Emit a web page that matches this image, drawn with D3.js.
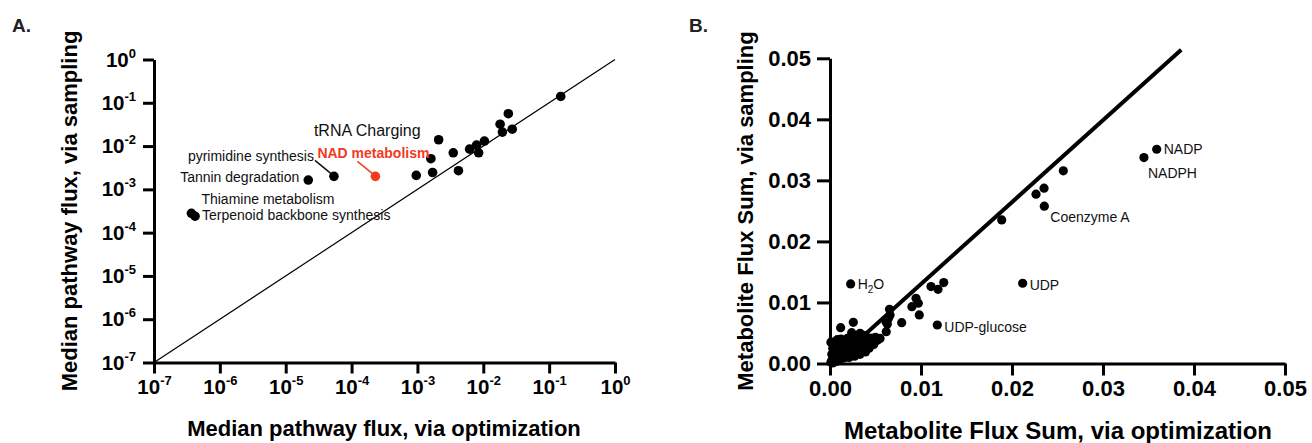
<!DOCTYPE html>
<html>
<head>
<meta charset="utf-8">
<script src="https://cdn.jsdelivr.net/npm/d3@7"></script>
<style>
  body { margin: 0; background: #fff; }
  svg { font-family: "Liberation Sans", Arial, Helvetica, sans-serif; }
  .axis path, .axis line { stroke: #000; stroke-width: 3; }
  .axis text { fill: #000; font-weight: bold; }
</style>
</head>
<body>
<svg id="chart" width="1312" height="443"></svg>
<script>
// ---- panel A: median pathway flux (log-log) ----
var pathOpt  = [4.2e-7, 3.7e-7, 2.2e-5, 5.4e-5, 2.3e-4, 9.6e-4, 1.7e-3, 1.6e-3, 2.1e-3, 3.5e-3,
                4.2e-3, 6.2e-3, 7.9e-3, 8.5e-3, 1.04e-2, 1.8e-2, 1.95e-2, 2.4e-2, 2.75e-2, 0.15];
var pathSamp = [2.4e-4, 2.8e-4, 1.64e-3, 2.0e-3, 2.0e-3, 2.1e-3, 2.45e-3, 5.1e-3, 1.4e-2, 7.0e-3,
                2.7e-3, 8.5e-3, 1.05e-2, 7.0e-3, 1.3e-2, 3.2e-2, 2.1e-2, 5.6e-2, 2.45e-2, 0.14];
var pathTicks = [1e-7, 1e-6, 1e-5, 1e-4, 1e-3, 1e-2, 1e-1, 1];
var highlightIdx = 4;   // NAD metabolism

// label: point index, text, pixel offset, anchor, size, leader line
var pathLabels = [
  {i: 0, text: "Terpenoid backbone synthesis", dx: 7, dy: 4, anchor: "start", size: 14},
  {i: 1, text: "Thiamine metabolism", dx: 10, dy: -9, anchor: "start", size: 14},
  {i: 2, text: "Tannin degradation", dx: -9, dy: 2, anchor: "end", size: 14},
  {i: 3, text: "pyrimidine synthesis", dx: -20, dy: -15, anchor: "end", size: 14, lead: [-19, -16]},
  {i: 4, text: "NAD metabolism", dx: -58, dy: -18, anchor: "start", size: 14, lead: [-18, -15], red: true},
  {i: 8, text: "tRNA Charging", dx: -18, dy: -4, anchor: "end", size: 16}
];

// ---- panel B: metabolite flux sums ----
var fluxOpt = [
  0.0359, 0.0345, 0.02564, 0.02352, 0.02264, 0.02355, 0.01887, 0.02117, 0.01179, 0.00227,
  0.0111, 0.01187, 0.0125, 0.00945, 0.0097, 0.0090, 0.00981, 0.00788, 0.00654, 0.0066,
  0.00643, 0.00615, 0.00618, 0.0063, 0.00117, 0.00256, 0.00238, 0.0033, 0.00458, 0.0043,
  0.0030, 0.0037, 0.0046,
  0.0001, 0.0002, 0.0003, 0.0004, 0.0005, 0.0005, 0.0006, 0.0007, 0.0008, 0.0008,
  0.0009, 0.0010, 0.0010, 0.0011, 0.0012, 0.0013, 0.0014, 0.0015, 0.0015, 0.0016,
  0.0017, 0.0018, 0.0019, 0.0020, 0.0021, 0.0022, 0.0023, 0.0024, 0.0025, 0.0026,
  0.0027, 0.0028, 0.0029, 0.0030, 0.0031, 0.0032, 0.0033, 0.0034, 0.0035, 0.0036,
  0.0037, 0.0038, 0.0039, 0.0040, 0.0041, 0.0042, 0.0043, 0.0044, 0.0046, 0.0048,
  0.0050, 0.0052, 0.0055, 0.0002, 0.0003, 0.0004, 0.0006, 0.0009, 0.0001, 0.0012,
  0.0019, 0.0026, 0.0034, 0.0008, 0.0016
];
var fluxSamp = [
  0.0351, 0.03374, 0.03156, 0.02872, 0.02774, 0.02577, 0.02352, 0.01315, 0.00631, 0.01303,
  0.0126, 0.01216, 0.01325, 0.01069, 0.00987, 0.00931, 0.00795, 0.00669, 0.00889, 0.00795,
  0.00741, 0.00685, 0.00521, 0.00648, 0.00587, 0.00675, 0.00505, 0.00495, 0.00413, 0.0033,
  0.0045, 0.0046, 0.0041,
  0.0002, 0.0005, 0.0001, 0.0008, 0.0003, 0.0012, 0.0006, 0.0018, 0.0004, 0.0025,
  0.0010, 0.0030, 0.0015, 0.0007, 0.0020, 0.0012, 0.0026, 0.0009, 0.0017, 0.0032,
  0.0022, 0.0013, 0.0028, 0.0018, 0.0010, 0.0024, 0.0035, 0.0015, 0.0030, 0.0021,
  0.0012, 0.0027, 0.0038, 0.0018, 0.0033, 0.0024, 0.0015, 0.0029, 0.0040, 0.0021,
  0.0034, 0.0027, 0.0019, 0.0037, 0.0030, 0.0042, 0.0025, 0.0035, 0.0040, 0.0031,
  0.0043, 0.0038, 0.0041, 0.0015, 0.0025, 0.0035, 0.0030, 0.0036, 0.0035, 0.0040,
  0.0041, 0.0044, 0.0047, 0.0039, 0.0036
];
var fluxTicks = [0, 0.01, 0.02, 0.03, 0.04, 0.05];
var fitX = [0.0003, 0.0386];
var fitY = [0, 0.0514];

var fluxLabels = [
  {i: 0, text: "NADP", dx: 7, dy: 5},
  {i: 1, text: "NADPH", dx: 4, dy: 20},
  {i: 5, text: "Coenzyme A", dx: 6, dy: 16},
  {i: 7, text: "UDP", dx: 7, dy: 7},
  {i: 8, text: "UDP-glucose", dx: 7, dy: 7},
  {i: 9, text: "H", sub: "2", after: "O", dx: 7, dy: 5}
];

var svg = d3.select("#chart");

// ================= panel A =================
var xA = d3.scaleLog().domain([1e-7, 1]).range([154, 615]);
var yA = d3.scaleLog().domain([1e-7, 1]).range([362.5, 59.5]);

function powLabel(sel, supDy) {
    sel.each(function(d) {
        var t = d3.select(this);
        t.text("10");
        t.append("tspan")
            .attr("dy", supDy)
            .style("font-size", "13px")
            .text(Math.round(Math.log10(d)));
    });
}

var gA = svg.append("g");

gA.append("line")
    .attr("x1", xA(1e-7)).attr("y1", yA(1e-7))
    .attr("x2", xA(1)).attr("y2", yA(1))
    .attr("stroke", "#000").attr("stroke-width", 1.2);

gA.append("g")
    .attr("class", "axis")
    .attr("transform", "translate(0," + yA(1e-7) + ")")
    .call(d3.axisBottom(xA).tickValues(pathTicks).tickSize(11).tickSizeOuter(0).tickPadding(6).tickFormat(""))
    .selectAll("text")
    .style("font-size", "20.5px")
    .call(powLabel, -9);

gA.append("g")
    .attr("class", "axis")
    .attr("transform", "translate(" + xA(1e-7) + ",0)")
    .call(d3.axisLeft(yA).tickValues(pathTicks).tickSize(11).tickSizeOuter(0).tickPadding(7).tickFormat(""))
    .selectAll("text")
    .style("font-size", "20.5px")
    .call(powLabel, -9);

gA.selectAll(".dot")
    .data(pathOpt)
    .enter().append("circle")
    .attr("class", "dot")
    .attr("cx", function(d) { return xA(d); })
    .attr("cy", function(d, i) { return yA(pathSamp[i]); })
    .attr("r", 4.8)
    .attr("fill", function(d, i) { return i == highlightIdx ? "#f23a1d" : "#000"; });

pathLabels.forEach(function(l) {
    var px = xA(pathOpt[l.i]), py = yA(pathSamp[l.i]);
    var col = l.red ? "#f23a1d" : "#111";
    if (l.lead) {
        gA.append("line")
            .attr("x1", px + l.lead[0]).attr("y1", py + l.lead[1])
            .attr("x2", px - 2).attr("y2", py - 2)
            .attr("stroke", col).attr("stroke-width", 1.5);
    }
    gA.append("text")
        .attr("x", px + l.dx).attr("y", py + l.dy)
        .attr("text-anchor", l.anchor)
        .style("font-size", l.size + "px")
        .style("font-weight", l.red ? "bold" : "normal")
        .attr("fill", col)
        .text(l.text);
});

gA.append("text")
    .attr("x", 384).attr("y", 436)
    .attr("text-anchor", "middle")
    .style("font-size", "22px").style("font-weight", "bold")
    .text("Median pathway flux, via optimization");

gA.append("text")
    .attr("transform", "translate(77,211) rotate(-90)")
    .attr("text-anchor", "middle")
    .style("font-size", "22px").style("font-weight", "bold")
    .text("Median pathway flux, via sampling");

gA.append("text")
    .attr("x", 12).attr("y", 32)
    .style("font-size", "19px").style("font-weight", "bold")
    .attr("fill", "#222")
    .text("A.");

// ================= panel B =================
var xB = d3.scaleLinear().domain([0, 0.05]).range([830, 1285]);
var yB = d3.scaleLinear().domain([0, 0.05]).range([363.5, 58.3]);

var gB = svg.append("g");

gB.append("g")
    .attr("class", "axis")
    .attr("transform", "translate(0," + yB(0) + ")")
    .call(d3.axisBottom(xB).tickValues(fluxTicks).tickSize(12).tickSizeOuter(0).tickPadding(5).tickFormat(d3.format(".2f")))
    .selectAll("text")
    .style("font-size", "22px");

gB.append("g")
    .attr("class", "axis")
    .attr("transform", "translate(" + xB(0) + ",0)")
    .call(d3.axisLeft(yB).tickValues(fluxTicks).tickSize(13).tickSizeOuter(0).tickPadding(6).tickFormat(d3.format(".2f")))
    .selectAll("text")
    .style("font-size", "22px");

gB.append("line")
    .attr("x1", xB(fitX[0])).attr("y1", yB(fitY[0]))
    .attr("x2", xB(fitX[1])).attr("y2", yB(fitY[1]))
    .attr("stroke", "#000").attr("stroke-width", 4);

gB.selectAll(".dot")
    .data(fluxOpt)
    .enter().append("circle")
    .attr("class", "dot")
    .attr("cx", function(d) { return xB(d); })
    .attr("cy", function(d, i) { return yB(fluxSamp[i]); })
    .attr("r", 4.6)
    .attr("fill", "#000");

fluxLabels.forEach(function(l) {
    var t = gB.append("text")
        .attr("x", xB(fluxOpt[l.i]) + l.dx)
        .attr("y", yB(fluxSamp[l.i]) + l.dy)
        .style("font-size", "14px")
        .attr("fill", "#111")
        .text(l.text);
    if (l.sub) {
        t.append("tspan").attr("dy", 4).style("font-size", "10px").text(l.sub);
        t.append("tspan").attr("dy", -4).text(l.after);
    }
});

gB.append("text")
    .attr("x", 1058).attr("y", 439)
    .attr("text-anchor", "middle")
    .style("font-size", "24px").style("font-weight", "bold")
    .text("Metabolite Flux Sum, via optimization");

gB.append("text")
    .attr("transform", "translate(753,211) rotate(-90)")
    .attr("text-anchor", "middle")
    .style("font-size", "22px").style("font-weight", "bold")
    .text("Metabolite Flux Sum, via sampling");

gB.append("text")
    .attr("x", 689).attr("y", 32)
    .style("font-size", "19px").style("font-weight", "bold")
    .attr("fill", "#222")
    .text("B.");
</script>
</body>
</html>
